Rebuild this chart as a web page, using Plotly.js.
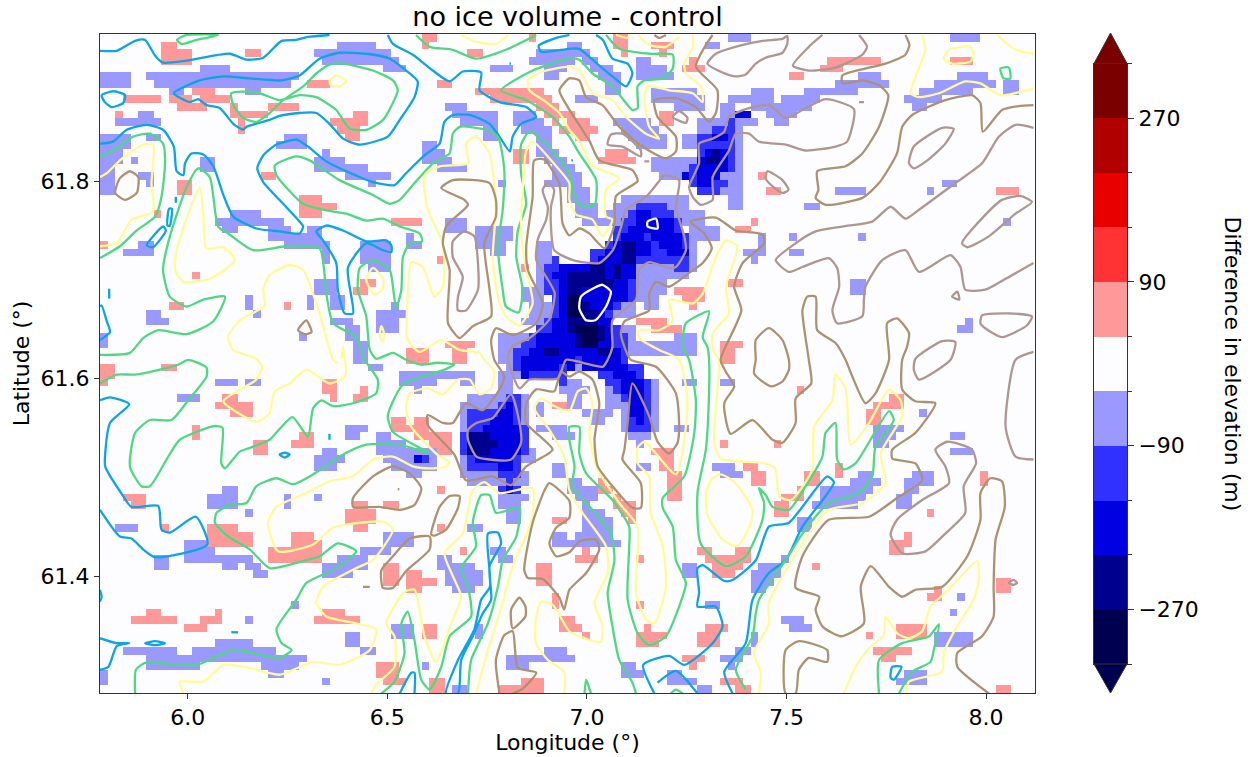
<!DOCTYPE html>
<html><head><meta charset="utf-8">
<script src="https://cdn.plot.ly/plotly-3.0.1.min.js"></script>
<style>html,body{margin:0;padding:0;background:#fff}#c{width:1251px;height:757px}</style></head>
<body><div id="c"></div>
<script>
// ---- source grid (cell index -> lon/lat)
const nCols=122, nRows=86, lonStart=5.78, lonStep=0.01919, latStart=61.949, latStep=0.00776;
const lonRange=[5.78,8.1227], latRange=[61.2815,61.949];
// ---- elevation-difference classes (band centres, m) and their colours
const bandValues=[-300,-240,-180,-120,-60,0,60,120,180,240,300];
const bandColors=['#000050','#00008f','#0000e0','#3030ff','#9999ff','#fdfdff','#ff9999','#ff3333','#e80000','#b00000','#7a0000'];
const cbTicks=[-270,-90,90,270], cbMinor=[-330,-210,-150,-30,30,150,210,330];
// ---- cells by class: [colStart,colEnd,rowStart,rowEnd)
const cellsM60=[[31,36,1,2],[28,38,2,3],[29,39,3,4],[37,40,4,5],[0,4,5,7],[6,11,5,6],[13,17,4,5],[11,26,5,6],[7,25,6,7],[9,11,7,8],[19,21,7,8],[51,54,4,5],[56,61,3,4],[57,61,2,3],[58,61,4,5],[45,48,9,10],[46,52,10,11],[47,52,11,12],[50,52,12,14],[54,57,10,11],[54,58,11,12],[55,59,12,13],[5,7,10,11],[2,8,11,12],[0,4,13,14],[6,8,13,14],[0,4,14,15],[0,3,15,17],[0,2,17,21],[4,5,16,17],[5,6,18,19],[6,7,18,20],[24,27,13,14],[23,27,14,15],[42,44,14,15],[42,45,15,16],[42,46,16,17],[44,48,17,18],[29,30,15,16],[28,32,16,17],[28,35,17,18],[32,38,18,19],[35,36,19,20],[13,15,16,18],[52,53,19,20],[45,48,24,26],[49,54,25,27],[49,53,27,28],[51,53,28,29],[17,21,23,24],[15,24,24,25],[16,18,25,26],[22,25,25,26],[22,28,26,27],[27,29,25,27],[24,30,27,28],[29,30,28,30],[5,7,27,28],[3,7,28,29],[40,41,26,27],[40,42,27,28],[34,38,27,30],[35,38,30,31],[28,31,32,34],[27,28,34,36],[30,32,34,36],[30,33,37,38],[32,34,38,40],[33,35,40,43],[19,20,34,36],[20,21,36,37],[6,8,36,37],[6,9,37,38],[0,1,39,41],[36,40,36,37],[36,39,37,39],[38,39,35,36],[26,27,39,40],[52,55,39,43],
[79,81,1,2],[82,85,0,1],[61,63,1,2],[61,64,2,3],[63,65,3,4],[64,67,4,5],[65,68,5,6],[57,62,3,4],[58,60,5,6],[62,64,8,9],[62,65,8,9],[66,68,6,8],[70,72,3,4],[70,74,4,5],[70,75,5,6],[72,78,7,8],[72,79,8,9],[75,79,9,10],[67,72,11,12],[68,73,12,13],[69,74,13,14],[70,74,14,15],[72,78,16,17],[72,77,17,18],[73,76,18,19],[76,78,13,15],[78,83,11,12],[81,83,9,11],[82,88,8,9],[85,88,7,8],[88,90,11,12],[83,86,11,12],[85,93,9,10],[87,91,10,11],[89,94,8,9],[92,99,7,8],[96,103,6,7],[99,102,5,6],[78,84,12,21],[82,84,21,23],
[57,59,13,15],[57,60,15,16],[58,61,16,17],[59,62,17,18],[59,63,18,19],[58,63,19,20],[61,64,20,22],[62,65,22,24],[63,66,24,25],[68,77,21,22],[67,77,22,23],[66,79,23,25],[77,79,24,26],[78,81,25,27],[76,78,26,30],[77,78,30,31],[72,77,31,32],[70,74,32,34],[71,73,34,36],
[111,115,0,1],[96,100,20,21],[92,94,22,23],[108,109,20,21],[110,112,19,20],[99,100,26,27],[118,119,24,25],[90,91,26,27],[90,92,28,29],[84,87,28,29],[86,87,26,28],[85,86,29,30],[98,100,32,34],[112,114,38,39],[113,114,37,38],[105,110,8,9],[106,108,9,10],[112,116,5,6],[109,117,6,7],[107,114,7,8],[118,120,6,8],[80,81,26,27],
[55,58,33,35],[56,60,35,37],[55,59,37,38],[52,58,39,41],[52,55,41,43],[53,54,43,46],[52,54,44,48],[50,56,47,48],[48,53,47,48],[47,56,48,49],[62,63,43,44],[57,59,27,33],[59,60,29,35],[70,77,30,32],[69,72,33,35],[67,70,35,37],[68,70,38,41],[69,78,40,42],[75,78,39,42],[60,61,44,47],[66,68,45,48],[68,69,48,51],[63,67,49,50],[64,66,50,51],[57,58,48,50],[57,61,51,52],[59,62,52,53],[59,61,56,58],[61,63,58,59],[62,65,59,60],[63,65,60,61],[61,62,58,60],[62,63,59,61],[63,64,60,62],[63,66,62,63],[63,67,63,65],[62,67,65,66],[61,68,66,67],[76,78,45,46],[81,83,45,46],[70,72,56,57],[80,83,56,57],[81,84,57,58],[75,77,51,52],[70,71,53,54],[61,62,52,53],[69,72,52,53],[68,69,49,52],[72,73,49,52],[71,73,45,49],[66,67,46,48],[61,63,45,49],[63,64,46,47],[66,68,47,49],
[91,93,63,65],[86,89,69,70],[85,89,70,71],[85,88,71,72],[85,87,72,73],[89,90,68,69],[76,78,69,71],[79,81,74,75],[99,101,57,58],[98,102,58,59],[94,101,59,60],[94,100,60,61],[93,99,61,62],[101,105,51,52],[101,104,52,53],[101,103,53,54],[107,108,49,50],[111,113,52,53],[111,114,54,55],[106,109,57,58],[105,109,58,59],[105,107,59,60],[104,106,60,62],[89,92,76,77],[90,93,77,78],[111,112,75,76],[112,113,73,74],[109,114,78,80],[81,84,81,82],[83,85,80,81],[85,86,78,80],[82,83,82,83],[68,70,82,83],[68,71,83,84],[61,62,81,82],[74,76,83,85],[76,78,84,85],[78,80,85,86],[105,108,83,85],[104,106,84,85],
[15,18,45,46],[19,21,45,46],[10,13,47,48],[32,35,51,52],[32,34,52,53],[39,49,44,45],[39,44,45,46],[41,42,46,47],[47,49,45,46],[36,38,52,53],[36,40,53,54],[36,45,54,55],[37,44,55,56],[38,44,56,57],[40,42,57,58],[29,31,54,55],[28,32,55,56],[28,31,56,57],[16,18,59,61],[14,18,60,62],[24,25,60,62],[28,29,60,61],[19,20,62,63],[2,5,64,65],[7,9,68,70],[11,14,66,67],[11,15,67,69],[14,20,68,69],[16,18,69,70],[19,21,69,70],[20,22,70,71],[34,38,67,68],[37,41,65,67],[31,35,68,69],[29,35,69,70],[29,33,70,71],[48,50,64,65],[51,53,67,68],[52,54,68,69],[44,46,68,69],[44,47,69,70],[45,50,70,72],[46,49,72,73],[47,49,69,70],[52,55,60,62],[53,55,62,64],[59,61,56,58],[59,61,65,67],[25,26,74,75],[19,20,76,77],[32,34,78,80],[34,36,80,81],[38,41,77,79],[49,50,77,79],[58,61,80,82],[53,58,81,82],[53,56,82,83],[42,43,82,83],[29,30,84,85],[3,10,80,81],[15,20,79,80],[12,23,80,81],[6,27,81,82],[6,13,82,83],[21,26,82,83],[22,24,83,84],[0,1,83,85],[46,48,85,86],[35,37,43,44],
[47,52,57,58],[55,56,57,58],[48,53,58,59],[54,56,58,59],[53,56,60,61],[47,48,50,52],[47,48,55,57],[55,56,48,51],[47,48,49,50],[54,57,55,56],[55,57,54,55],[58,59,35,36],[54,55,44,45]];
const cellsP60=[[8,10,1,4],[10,12,2,4],[19,21,2,3],[42,44,0,1],[42,43,1,2],[48,50,2,3],[56,57,0,1],[27,30,6,7],[44,46,6,7],[3,8,8,9],[2,3,10,11],[12,15,7,8],[9,12,8,9],[13,17,8,9],[10,14,9,10],[17,18,9,11],[18,22,10,11],[18,19,11,13],[22,26,9,10],[33,35,10,11],[30,35,11,12],[31,34,12,13],[32,34,13,14],[49,58,7,8],[51,59,8,9],[57,60,9,10],[58,61,10,11],[59,60,11,12],[60,61,12,13],[54,56,15,17],[21,23,18,19],[10,12,19,21],[26,29,21,24],[29,31,22,23],[7,8,23,24],[38,42,24,25],[0,1,27,28],[44,45,29,30],[55,56,30,31],[12,13,31,32],[34,36,32,33],[33,35,33,34],[9,11,35,36],[24,25,35,36],[40,43,41,43],[45,49,40,41],[46,48,41,43],
[67,69,0,2],[68,69,2,3],[72,75,1,2],[73,74,2,3],[77,78,3,4],[76,79,4,5],[61,62,10,12],[62,64,11,12],[61,65,12,13],[62,64,13,14],[73,75,10,12],[66,69,15,16],[65,70,16,17],[90,92,5,6],[94,97,4,5],[95,102,3,4],[111,114,3,4],[86,87,18,19],[87,89,20,21],[117,120,20,21],[83,85,25,26],[85,86,24,25],[82,84,32,33],[75,79,33,34],[76,79,34,35],[77,78,35,36],[70,74,37,38],[72,76,38,39],[81,84,40,41],[81,83,41,43],
[0,2,43,45],[0,1,45,46],[8,10,43,44],[29,31,45,47],[30,31,47,48],[34,35,46,47],[33,35,47,48],[16,18,47,48],[15,20,48,49],[17,20,49,50],[12,13,51,53],[20,22,53,55],[26,28,52,54],[25,26,53,54],[38,40,50,52],[40,41,51,52],[41,43,50,53],[43,46,52,54],[44,46,53,55],[3,6,60,61],[4,6,61,62],[8,9,64,65],[14,18,64,65],[14,20,65,67],[25,28,65,66],[22,29,67,69],[25,29,66,67],[33,35,61,62],[37,39,61,62],[32,36,62,64],[33,35,64,65],[44,45,59,60],[44,45,64,65],[47,48,67,68],[37,39,69,72],[40,42,70,71],[40,44,71,72],[40,42,72,73],[29,32,75,76],[28,34,76,77],[6,8,75,76],[4,10,76,77],[15,16,75,76],[13,16,76,77],[11,14,77,78],[42,44,77,79],[36,39,82,84],[37,40,84,85],[43,45,84,86],[57,59,69,72],[59,60,73,75],[60,61,76,78],[55,58,84,86],[52,55,85,86],[59,61,63,64],[59,61,48,49],
[91,92,46,47],[61,62,76,78],[62,63,77,78],[63,64,78,79],[65,66,58,60],[66,67,59,60],[67,68,60,61],[67,70,61,62],[68,70,62,63],[69,70,63,64],[72,75,54,55],[73,75,55,57],[74,76,57,61],[81,82,53,54],[88,89,53,54],[84,86,56,57],[85,87,57,59],[92,94,57,59],[91,92,59,61],[96,97,56,58],[89,91,60,61],[88,90,61,63],[103,105,47,48],[101,105,48,49],[100,102,49,51],[115,116,57,59],[108,109,62,63],[105,106,65,66],[103,106,66,67],[103,105,67,68],[78,80,67,68],[83,85,67,68],[79,85,68,69],[80,84,69,70],[80,83,70,71],[93,94,69,70],[109,110,72,73],[108,110,73,74],[117,119,71,73],[70,71,74,75],[71,72,77,78],[70,74,78,79],[70,73,79,80],[79,82,77,78],[78,81,78,80],[76,79,81,82],[77,78,82,83],[100,101,78,79],[104,108,77,79],[101,106,80,81],[102,104,81,82],[81,84,84,85],[83,85,85,86],[117,119,85,86],[62,65,68,69],[63,64,67,68],[70,71,68,69]];
const cellsM120=[[70,74,22,23],[69,75,23,24],[68,76,24,25],[67,76,25,26],[67,77,26,27],[66,77,27,28],[64,77,28,29],[59,60,29,30],[64,77,29,30],[58,70,30,31],[75,77,30,31],[58,59,31,32],[58,60,32,34],[59,60,34,37],[69,70,32,35],[67,68,35,36],[66,67,36,37],[58,59,37,38],[57,59,38,39],[67,68,38,39],[56,57,39,40],[67,69,39,41],[55,57,40,41],[54,56,41,42],[68,69,41,43],[54,55,42,44],[62,63,42,43],[60,61,43,44],[67,68,43,44],[69,71,43,45],[56,61,44,45],[65,67,44,45],[60,61,45,46],[66,68,45,46],[71,72,45,48],[67,68,46,47],[68,69,47,48],[69,72,48,52],
[53,55,47,48],[52,55,48,49],[48,52,49,50],[54,55,49,51],[48,51,50,51],[48,50,51,52],[55,56,51,55],[47,48,52,55],[48,49,55,56],[54,55,55,57],[48,52,56,57],[52,55,57,58],[52,55,59,60],[53,54,58,59],
[83,85,10,11],[82,83,11,12],[80,83,12,13],[78,83,13,14],[78,83,14,16],[82,83,16,18],[77,78,17,19],[77,82,19,20],[78,81,20,21],[42,43,55,56]];
const cellsM180=[[70,72,23,24],[70,75,24,25],[69,75,25,26],[68,71,26,27],[72,76,26,27],[67,72,27,28],[73,76,27,28],[66,72,28,29],[74,77,28,29],[65,70,29,30],[60,70,30,31],[59,70,31,32],[60,69,32,35],[60,67,35,36],[60,66,36,37],[59,67,37,38],[59,67,38,39],[57,67,39,41],[56,68,41,42],[55,62,42,43],[63,68,42,43],[55,60,43,44],[61,62,43,44],[63,67,43,44],[67,69,43,44],[55,56,44,45],[67,70,44,45],[68,71,45,47],[69,71,47,50],[70,71,50,51],
[53,54,48,49],[52,54,49,50],[51,54,50,51],[50,55,51,52],[51,55,52,53],[52,55,53,54],[51,55,54,55],[49,54,55,56],[52,54,56,57],[53,54,59,60],
[80,82,13,14],[79,82,15,16],[78,82,16,18],[76,77,18,19],[78,81,18,19],[78,80,19,20],[83,85,10,11],[41,42,55,56]];
const cellsM240=[[68,70,27,30],[64,66,30,31],[67,68,30,32],[61,66,31,32],[61,67,32,33],[61,63,33,34],[63,64,35,36],[63,65,36,37],[61,65,37,38],[61,62,38,39],[65,66,38,39],[62,63,39,41],[65,66,39,40],[58,60,41,42],[65,67,41,42],[48,51,52,53],[48,52,53,54],[48,51,54,55],[80,81,15,17],[79,80,16,17]];
const cellsM300=[[61,63,34,37],[62,65,38,39],[63,65,39,41]];
// ---- contour lines: "lon,lat" in millidegrees of lon and of (lat-61); * = closed
const blueLines=["5780,932 5822,932 5868,942 5893,943 5918,927 5938,920 5997,922 6105,929 6147,923 6189,925 6235,942 6272,943 6301,946 6355,948",
"*5965,889 6030,902 6089,906 6155,904 6235,902 6280,907 6330,924 6380,930 6447,929 6506,924 6547,912 6576,901 6568,885 6531,862 6501,845 6431,837 6389,843 6355,858 6322,869 6280,869 6230,866 6205,862 6147,855 6139,852 6114,858 6080,874 6047,877 6026,883 6005,880",
"6501,948 6514,939 6564,928 6614,912 6656,901 6689,911 6735,910 6731,892 6781,880 6848,875 6873,865 6835,858 6814,845 6807,830 6781,845 6756,858 6706,867 6664,867 6643,860 6631,838 6593,826 6547,808 6518,796 6464,799 6397,810 6347,820 6301,835 6272,842 6222,837 6189,826 6174,813 6189,799 6239,777 6280,759 6289,754 6280,747 6230,749 6172,752 6114,764 6089,786 6064,815 6039,827 6009,828 5993,818 5989,806 5972,810 5965,835 5938,852 5897,857 5847,852 5813,840 5780,838",
"*5784,887 5813,891 5843,887 5838,879 5809,875 5792,880",
"*6322,749 6347,755 6389,750 6447,739 6497,740 6510,735 6510,728 6489,730 6447,737 6401,712 6414,666 6393,666 6376,690 6372,717 6339,740",
"*5897,735 5938,754 5945,750 5913,733","*5949,755 5953,772 5960,772 5955,755","5970,784 5970,778","5803,691 5803,681","6806,919 6810,919","6961,821 6965,821",
"5780,673 5784,674 5797,658 5805,647 5780,639",
"7023,948 7040,943 7064,924 7102,919 7114,909 7098,896 7064,906 7014,923 6981,934 6956,934 6885,931 6879,937 6923,945 6956,948",
"5780,578 5805,581 5853,574 5805,555 5793,524 5793,511 5838,481 5859,470 5926,471 5934,447 5955,444 6020,460 6049,432 5918,419 5888,427 5859,438 5830,440 5780,467",
"*6230,523 6243,525 6255,523 6243,520","6355,544 6355,538","6109,343 6126,343","*5893,332 5918,334 5943,332 5918,330",
"5780,337 5822,332 5853,332 5822,329 5801,308 5780,305","5780,386 5784,379 5780,374","6531,281 6560,302 6568,302 6568,281",
"*6647,281 6677,315 6718,346 6735,376 6757,389 6752,443 6777,444 6785,433 6756,410 6760,376 6739,362 6714,339 6685,315 6677,281",
"7365,281 7344,303 7398,332 7415,376 7456,403 7498,416 7540,450 7598,481 7619,495 7602,501 7506,454 7456,450 7423,416 7365,396 7344,395 7290,411 7277,408 7281,383 7277,369 7323,369 7340,349 7315,332 7244,310 7206,319 7141,310 7169,281",
"7177,292 7223,304 7277,281","*7761,297 7765,308 7788,308 7769,295"];
const greenLines=["*6076,948 6022,943 5984,939 5973,943 5997,948",
"*6109,889 6172,890 6230,882 6280,887 6322,885 6372,872 6406,853 6447,852 6489,862 6526,892 6514,902 6464,912 6389,919 6355,918 6322,909 6289,896 6239,882 6205,869 6172,860 6139,864 6114,877",
"6572,948 6606,936 6664,933 6722,924 6797,933 6873,948",
"7048,948 7081,934 7156,929 7215,928 7215,914 7190,904 7144,902 7127,896 7127,874 7114,872 7064,896 7014,909 6981,923 6956,924 6864,912 6785,892 6848,882 6914,865 6956,845 6981,828 7023,801 7019,776 6981,776 6964,791 6956,808 6898,838 6856,850 6835,837 6835,808 6848,777 6827,750 6823,723 6839,690 6829,667 6797,673 6789,690 6777,734 6789,771 6793,811 6777,845 6747,852 6681,855 6664,848 6656,828 6614,818 6568,798 6531,781 6506,777 6464,786 6380,801 6305,821 6272,825 6218,816 6222,806 6289,777 6339,771 6397,767 6447,760 6489,762 6531,754 6581,747 6587,739 6556,737 6539,723 6535,690 6522,671 6514,693 6506,710 6464,720 6431,712 6426,690 6447,663 6456,629 6472,620 6514,626 6547,619 6585,614 6627,616 6668,614 6643,609 6539,594 6501,562 6514,546 6606,524 6531,533 6447,533 6389,523 6314,503 6264,493 6222,499 6172,491 6147,474 6105,472 6072,464 6068,454 6101,440 6155,427 6205,408 6289,415 6330,420 6376,433 6422,425 6372,408 6297,393 6272,376 6222,346 6235,332 6260,325 6230,317 6114,325 6022,310 5893,312 5870,305 5868,281",
"5780,595 5822,604 5868,604 5930,609 5976,614 6001,619 6047,611 6047,602 6001,578 5959,558 5905,558 5868,545 5855,511 5884,491 5905,491 5951,521 5980,538 6068,552 6087,550 6084,514 6093,509 6130,526 6164,531 6205,538 6262,561 6301,541 6314,570 6335,578 6364,572 6414,575 6472,585 6476,599 6443,619 6422,642 6364,656 6347,686 6330,732 6247,734 6164,730 6101,747 6076,754 6055,804 6026,813 5997,794 5955,744 5938,710 5955,683 5997,673 6039,680 6093,683 6064,658 5997,645 5926,649 5888,641 5855,626 5780,624",
"5780,825 5813,831 5863,845 5905,848 5938,838 5943,818 5934,784 5918,764 5872,750 5830,734 5780,722",
"7398,285 7373,305 7415,339 7423,362 7431,376 7498,416 7540,443 7606,474 7682,484 7715,501 7723,531 7769,558 7757,567 7673,514 7644,508 7627,518 7623,555 7598,545 7590,521 7548,491 7506,467 7465,470 7448,482 7431,489 7444,474 7440,457 7398,420 7348,410 7285,433 7277,484 7298,528 7306,585 7306,619 7302,632 7290,642 7306,668 7248,656 7240,632 7256,619 7273,578 7269,545 7244,501 7190,479 7190,469 7215,450 7223,416 7248,393 7231,369 7198,339 7156,330 7127,342 7102,376 7106,430 7106,450 7064,477 6998,504 6981,524 6981,551 6956,551 6956,538 6969,511 6964,491 7014,467 7060,443 7069,416 7052,383 7064,349 7081,315 7114,292 7123,281",
"6702,281 6710,315 6752,352 6777,389 6789,416 6823,440 6831,469 6772,464 6756,482 6735,482 6714,454 6722,430 6685,408 6702,389 6710,359 6656,339 6635,308 6606,285 6585,295 6568,335 6551,364 6535,352 6543,322 6518,293 6485,281",
"7732,281 7732,315 7790,332 7857,339 7882,351 7869,325 7861,313 7815,303 7782,281","6994,281 6998,295 7010,281","7210,281 7223,285 7240,281",
"*8036,914 8057,915 8061,904 8044,904"];
const yellowLines=["6685,948 6722,941 6772,939 6802,948","*6355,901 6372,907 6397,901 6380,896 6360,897",
"7265,948 7266,936 7244,919 7248,909 7285,896 7290,880 7265,889 7206,892 7152,896 7144,885 7156,855 7181,843 7148,848 7098,865 7064,882 7014,889 6981,912 6956,916 6889,911 6852,902 6856,892 6898,880 6931,869 6956,852 6981,840 7014,816 7081,803 7048,791 7048,764 7064,761 7039,744 7014,761 6973,766 6956,781 6956,798 6923,815 6864,840 6848,831 6839,791 6835,750 6848,710 6864,676 6831,654 6797,663 6777,683 6764,723 6772,774 6756,828 6722,845 6697,838 6702,818 6631,815 6593,806 6601,771 6639,737 6639,693 6618,683 6589,713 6560,718 6551,683 6551,639 6581,627 6635,639 6681,629 6731,626 6743,619 6768,607 6760,590 6731,584 6706,599 6677,599 6639,584 6601,590 6556,585 6547,570 6560,551 6631,521 6656,516 6647,511 6606,509 6564,511 6514,521 6464,518 6414,501 6355,496 6297,484 6222,470 6201,454 6226,425 6314,432 6364,449 6489,455 6514,447 6464,416 6422,408 6339,389 6322,373 6347,359 6422,352 6472,346 6456,325 6380,310 6314,313 6230,300 6155,307 6089,310 6039,293 5980,293 5989,281",
"5780,734 5822,737 5859,761 5913,769 5909,798 5913,837 5888,837 5830,821 5797,808 5780,804",
"*6030,794 6005,771 5972,730 5968,710 5989,698 6055,701 6118,720 6089,733 6047,732 6039,764",
"*6464,712 6489,701 6489,691 6468,685 6447,700",
"6374,616 6364,619 6330,666 6289,710 6255,715 6205,705 6189,690 6193,674 6130,659 6101,642 6114,629 6172,620 6186,612 6172,599 6089,577 6164,557 6180,557 6205,565 6218,587 6255,595 6297,609 6355,595 6393,602 6397,609 6393,619 6389,632 6385,620",
"*6485,653 6493,644 6487,637 6481,644","7073,948 7102,945 7106,948","7127,948 7156,938 7198,936 7231,946",
"7840,948 7848,933 7811,889 7832,885 7882,889 7948,901 7986,899 8036,887 8119,894","8028,948 8074,933 8119,929",
"*7894,924 7907,933 7961,936 7969,928 7961,921 7915,919",
"7431,281 7436,302 7419,322 7456,352 7456,373 7556,443 7606,467 7690,474 7748,494 7736,524 7790,562 7786,578 7757,589 7707,555 7661,533 7648,590 7623,604 7615,578 7569,551 7565,508 7511,477 7481,481 7473,508 7448,514 7335,519 7319,535 7331,609 7331,619 7315,629 7315,646 7356,666 7348,693 7377,734 7348,740 7323,723 7290,686 7265,676 7206,680 7215,658 7181,649 7131,649 7131,641 7181,629 7231,619 7252,575 7223,503 7144,536 7127,530 7127,514 7156,501 7160,464 7190,430 7198,389 7169,352 7148,356 7123,383 7127,450 7081,474 7027,508 7006,545 7014,575 6998,590 6977,587 6956,567 6914,573 6885,580 6868,570 6906,548 6943,521 6956,487 6989,464 7048,430 7052,403 7019,373 7039,349 7035,333 6994,337 6956,344 6914,371 6885,374 6872,356 6872,332 6902,315 6943,303 6943,281",
"6460,281 6472,290 6518,308 6518,339 6497,352 6543,384 6568,386 6593,339 6622,313 6660,352 6685,379 6664,400 6643,423 6689,443 6714,487 6743,495 6781,484 6864,489 6860,454 6814,410 6781,362 6752,325 6722,281",
"*7335,503 7373,494 7415,467 7411,454 7377,430 7340,437 7302,462 7298,484 7315,499",
"7644,281 7673,308 7707,327 7744,340 7748,359 7777,342 7807,337 7840,344 7861,369 7898,383 7978,415 7982,396 7969,376 7923,346 7894,322 7890,303 7807,293 7798,281"];
const brownLines=["7315,948 7298,938 7273,916 7327,892 7323,869 7306,860 7273,875 7223,884 7169,882 7177,865 7223,845 7223,830 7198,823 7139,835 7081,855 7039,877 6998,885 6981,902 6956,904 6931,892 6952,875 7006,841 7031,821 7114,811 7127,800 7073,785 7069,756 7044,732 7006,747 6981,752 6956,745 6939,757 6931,797 6893,822 6868,821 6864,784 6848,734 6852,710 6889,676 6873,656 6814,644 6772,651 6760,639 6768,619 6793,602 6781,589 6739,568 6697,575 6664,555 6639,555 6601,563 6601,553 6668,523 6697,497 6764,501 6810,492 6848,511 6914,528 6848,555 6848,575 6873,589 6918,587 6935,607 6956,602 6981,607 7014,599 7031,575 7019,538 7027,511 7064,491 7114,469 7135,469 7135,494 7089,518 7094,528 7102,555 7114,595 7156,562 7177,536 7206,524 7227,535 7231,555 7223,585 7173,612 7110,619 7094,632 7085,646 7094,658 7156,669 7156,686 7173,698 7206,693 7256,707 7290,717 7313,732 7294,747 7260,759 7323,763 7373,750 7440,746 7444,737 7390,717 7369,693 7387,669 7335,619 7348,607 7369,592 7344,575 7360,544 7415,558 7465,538 7490,535 7523,555 7523,580 7562,595 7556,619 7540,669 7552,683 7573,683 7577,649 7623,636 7648,619 7665,602 7698,575 7723,585 7757,619 7752,656 7777,661 7807,646 7802,632 7790,619 7790,589 7823,577 7873,575 7823,545 7765,528 7765,519 7823,514 7840,497 7777,479 7707,460 7606,457 7540,420 7523,388 7582,379 7573,366 7590,349 7636,339 7694,352 7686,389 7711,410 7757,389 7790,379 7823,386 7890,389 7953,420 7986,457 7986,484 8011,499 8040,496 8047,470 8024,437 8019,389 8019,359 7990,339 7928,322 7928,308 8007,281",
"7798,948 7808,938 7798,928 7748,919 7640,907 7640,899 7690,902 7732,897 7755,887 7732,855 7690,828 7648,815 7577,810 7580,791 7573,783 7598,776 7690,783 7732,798 7777,828 7790,855 7815,867 7898,882 7965,887 7986,879 7992,850 8040,872 8082,876 8119,877",
"*7498,281 7498,325 7531,334 7602,325 7602,313 7556,317 7531,305 7523,281",
"*6814,347 6810,366 6831,378 6846,369 6846,359",
"6781,281 6772,315 6793,340 6814,344 6827,307 6873,302 6839,286 6814,281",
"*6414,479 6464,501 6514,511 6556,504 6585,489 6568,472 6531,467 6481,470 6414,470",
"*6610,442 6631,470 6656,481 6681,481 6677,469 6647,447 6618,441",
"*6514,420 6556,438 6606,440 6606,427 6547,405 6514,388 6489,388 6485,406","6439,389 6456,389","6526,488 6530,488",
"*6906,494 6893,486 6864,454 6843,406 6852,398 6889,397 6931,378 6943,366 6956,386 6998,403 7031,427 7023,437 6981,435 6956,424 6923,420 6906,433 6923,449 6956,459 6956,476",
"*6635,793 6664,801 6756,798 6772,781 6772,764 6743,737 6756,690 6760,663 6714,653 6681,641 6652,656 6652,676 6656,710 6639,737 6647,754 6702,776 6693,781",
"*5818,788 5830,803 5855,810 5876,804 5872,788 5843,781","*6276,649 6297,659 6310,647 6293,645","7169,948 7181,945 7198,948",
"*7419,605 7461,592 7490,597 7506,609 7506,619 7490,639 7456,651 7423,639 7423,619"];
const mauveLines=["*7502,947 7490,944 7440,942 7381,937 7323,929 7302,919 7340,910 7373,906 7398,908 7423,919 7448,925 7490,930 7502,939",
"7590,948 7556,936 7516,917 7556,912 7623,915 7690,928 7702,936 7682,948",
"*7281,838 7315,843 7344,850 7356,865 7406,874 7456,877 7498,864 7540,872 7598,883 7669,873 7652,840 7623,835 7548,831 7498,837 7431,840 7406,848 7373,848 7356,831 7315,804 7315,781 7285,776 7265,784 7256,794 7281,818",
"*7452,810 7490,801 7505,791 7490,788 7456,798 7448,803","*7807,818 7819,835 7890,854 7919,853 7898,838 7853,821 7819,813",
"8119,854 8074,857 8032,845 7990,818 7923,798 7832,771 7798,762 7761,774 7715,759 7640,754 7573,749 7523,737 7473,720 7506,708 7540,713 7606,722 7627,712 7632,693 7615,669 7627,656 7690,663 7694,680 7698,693 7740,720 7798,730 7832,708 7911,725 7936,713 7948,690 7998,690 8049,701 8119,717",
"*7940,737 7994,764 8040,781 8086,785 8115,779 8074,767 8007,744 7953,733","*7915,683 7928,688 7933,680","7682,880 7694,880",
"*7986,656 7990,664 8057,666 8115,663 8103,654 8040,642 7998,651",
"*7761,442 7777,457 7840,477 7907,494 7898,511 7873,528 7903,536 7965,528 7975,514 7944,491 7948,464 7898,443 7848,425 7790,423",
"8119,627 8074,619 8049,551 8074,521 8119,518","*7911,619 7923,637 7890,638 7823,620 7819,609 7832,599",
"*8057,393 8069,396 8078,393 8069,391",
"*6664,739 6693,749 6718,744 6727,717 6727,690 6697,669 6677,669 6677,683 6689,703 6664,723",
"*7194,806 7231,801 7223,774 7244,744 7248,730 7223,713 7206,712 7156,718 7131,710 7123,680 7064,659 7064,632 7052,619 7040,612 6990,616 6948,619 6927,600 6856,599 6831,590 6802,622 6814,633 6856,641 6906,660 6919,687 6898,703 6873,720 6877,741 6898,761 6902,774 6889,791 6903,799 6918,791 6910,774 6910,754 6918,730 6965,720 7031,717 7065,730 7086,754 7098,771 7148,784 7177,798",
"*6810,584 6831,555 6835,535 6810,518 6756,518 6723,521 6702,538 6702,548 6723,555 6764,560",
"*7052,837 7060,847 7089,848 7135,831 7135,825 7089,835","*7215,865 7231,871 7252,864 7248,859","7144,820 7156,820"];
const whiteLines=["*6985,683 7019,692 7039,695 7060,688 7048,673 7021,659 6998,659 6981,671","*7152,759 7173,762 7177,752 7152,754"];
const lineColors={blue:'#0ca4e4',green:'#4fd882',yellow:'#fffb96',brown:'#ab9371',mauve:'#ad9790',white:'#ffffff'};

// ---- build the grid
const zGrid=Array.from({length:nRows},()=>new Array(nCols).fill(0));
function paint(list,v){list.forEach(([c0,c1,r0,r1])=>{for(let r=r0;r<r1&&r<nRows;r++)for(let c=c0;c<c1&&c<nCols;c++)zGrid[r][c]=v;});}
paint(cellsM60,-60);paint(cellsP60,60);paint(cellsM120,-120);paint(cellsM180,-180);paint(cellsM240,-240);paint(cellsM300,-300);
const lonCentres=Array.from({length:nCols},(_,i)=>lonStart+(i+.5)*lonStep);
const latCentres=Array.from({length:nRows},(_,i)=>latStart-(i+.5)*latStep);
const scale=bandColors.flatMap((c,i)=>[[i/11,c],[(i+1)/11,c]]);
function lineTrace(list,color,name){
  const x=[],y=[];
  list.forEach(s=>{const closed=s[0]==='*';const pts=s.replace('*','').split(' ').map(p=>p.split(',').map(Number));
    if(closed)pts.push(pts[0]);pts.forEach(p=>{x.push(p[0]/1000);y.push(61+p[1]/1000);});x.push(null);y.push(null);});
  return {type:'scatter',mode:'lines',x,y,name,hoverinfo:'skip',showlegend:false,line:{color,width:2.3,shape:'spline',smoothing:0.6},xaxis:'x',yaxis:'y'};
}
const W=1251,H=757,L=100,R=1035,T=34,B=693,CL=1094,CR=1127,CT=63.5,CB=664;
const fx=p=>p/W, fy=p=>1-p/H;
const traces=[
 {type:'heatmap',x:lonCentres,y:latCentres,z:zGrid,zmin:-330,zmax:330,colorscale:scale,showscale:false,hoverinfo:'skip',xaxis:'x',yaxis:'y'},
 lineTrace(blueLines,lineColors.blue,'blue'),lineTrace(greenLines,lineColors.green,'green'),lineTrace(yellowLines,lineColors.yellow,'yellow'),
 lineTrace(brownLines,lineColors.brown,'brown'),lineTrace(mauveLines,lineColors.mauve,'mauve'),lineTrace(whiteLines,lineColors.white,'white'),
 {type:'heatmap',x:[0],y:bandValues,z:bandValues.map(v=>[v]),zmin:-330,zmax:330,colorscale:scale,showscale:false,hoverinfo:'skip',xaxis:'x2',yaxis:'y2'}
];
const font={family:'"DejaVu Sans"',color:'#000'};
const layout={width:W,height:H,margin:{l:0,r:0,t:0,b:0},paper_bgcolor:'#fff',plot_bgcolor:'#fdfdff',showlegend:false,font:Object.assign({size:22},font),
 title:{text:'no ice volume - control',font:Object.assign({size:27},font),x:567.5/W,xanchor:'center',y:1-17/H,yanchor:'middle'},
 xaxis:{domain:[fx(L),fx(R)],range:lonRange,tickvals:[6,6.5,7,7.5,8],ticktext:['6.0','6.5','7.0','7.5','8.0'],ticks:'outside',ticklen:5,tickwidth:1,tickcolor:'#333',showgrid:false,zeroline:false,showline:true,mirror:true,linecolor:'#333',linewidth:1,title:{text:'Longitude (°)',standoff:4,font:Object.assign({size:22},font)},anchor:'y'},
 yaxis:{domain:[fy(B),fy(T)],range:latRange,tickvals:[61.4,61.6,61.8],ticktext:['61.4','61.6','61.8'],ticks:'outside',ticklen:5,tickwidth:1,tickcolor:'#333',showgrid:false,zeroline:false,showline:true,mirror:true,linecolor:'#333',linewidth:1,title:{text:'Latitude (°)',standoff:4,font:Object.assign({size:22},font)},anchor:'x'},
 xaxis2:{domain:[fx(CL),fx(CR)],range:[-.5,.5],showticklabels:false,ticks:'',showgrid:false,zeroline:false,showline:true,mirror:true,linecolor:'#333',linewidth:1,anchor:'y2'},
 yaxis2:{domain:[fy(CB),fy(CT)],range:[-330,330],side:'right',tickvals:cbTicks,ticktext:['\u2212270','\u221290','90','270'],ticks:'outside',ticklen:6,tickwidth:1,tickcolor:'#333',showgrid:false,zeroline:false,showline:true,mirror:true,linecolor:'#333',linewidth:1,anchor:'x2',minor:{tickmode:'array',tickvals:cbMinor,ticks:'outside',ticklen:4,tickcolor:'#333',showgrid:false}},
 annotations:[{xref:'paper',yref:'paper',x:1232/W,y:fy(363.5),text:'Difference in elevation (m)',showarrow:false,textangle:90,font:Object.assign({size:22},font),xanchor:'center',yanchor:'middle'}],
 shapes:[
  {type:'path',xref:'paper',yref:'paper',path:`M ${fx(CL)} ${fy(CT)} L ${fx((CL+CR)/2)} ${fy(33)} L ${fx(CR)} ${fy(CT)} Z`,fillcolor:bandColors[10],line:{color:'#333',width:1}},
  {type:'path',xref:'paper',yref:'paper',path:`M ${fx(CL)} ${fy(CB)} L ${fx((CL+CR)/2)} ${fy(693)} L ${fx(CR)} ${fy(CB)} Z`,fillcolor:bandColors[0],line:{color:'#333',width:1}}
 ]};
Plotly.newPlot('c',traces,layout,{displayModeBar:false,staticPlot:true});
</script></body></html>
